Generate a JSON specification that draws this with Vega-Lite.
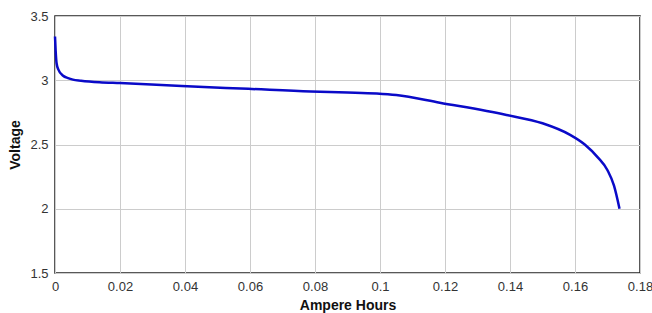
{
  "$schema": "https://vega.github.io/schema/vega-lite/v6.json",
  "width": 585,
  "height": 257,
  "autosize": {"type": "none"},
  "padding": {"left": 55, "top": 16, "right": 12, "bottom": 40},
  "background": "white",
  "config": {
    "font": "Liberation Sans",
    "view": {"stroke": "#222222", "strokeWidth": 1.5},
    "axis": {
      "gridColor": "#cccccc",
      "gridWidth": 1,
      "domain": false,
      "ticks": false,
      "labelFont": "Liberation Sans",
      "labelFontSize": 13,
      "labelColor": "#333333",
      "titleFont": "Liberation Sans",
      "titleFontSize": 14,
      "titleFontWeight": "bold",
      "titleColor": "#111111"
    }
  },
  "data": {
    "values": [
      {"ah": 0.0, "v": 3.34},
      {"ah": 0.0002, "v": 3.23},
      {"ah": 0.0005, "v": 3.13},
      {"ah": 0.001, "v": 3.085},
      {"ah": 0.0025, "v": 3.035},
      {"ah": 0.004, "v": 3.017},
      {"ah": 0.0055, "v": 3.005},
      {"ah": 0.008, "v": 2.997},
      {"ah": 0.0137, "v": 2.985},
      {"ah": 0.02, "v": 2.978},
      {"ah": 0.039, "v": 2.955},
      {"ah": 0.0595, "v": 2.933},
      {"ah": 0.0787, "v": 2.912},
      {"ah": 0.09, "v": 2.905},
      {"ah": 0.099, "v": 2.897},
      {"ah": 0.105, "v": 2.885},
      {"ah": 0.1184, "v": 2.825},
      {"ah": 0.1389, "v": 2.73},
      {"ah": 0.15, "v": 2.665},
      {"ah": 0.1585, "v": 2.575},
      {"ah": 0.163, "v": 2.5},
      {"ah": 0.167, "v": 2.4},
      {"ah": 0.17, "v": 2.3},
      {"ah": 0.172, "v": 2.18},
      {"ah": 0.1737, "v": 2.0}
    ]
  },
  "mark": {"type": "line", "color": "#0a0ac8", "strokeWidth": 2.5, "interpolate": "monotone"},
  "encoding": {
    "x": {
      "field": "ah",
      "type": "quantitative",
      "title": "Ampere Hours",
      "scale": {"domain": [0, 0.18], "nice": false, "zero": false},
      "axis": {"values": [0, 0.02, 0.04, 0.06, 0.08, 0.1, 0.12, 0.14, 0.16, 0.18], "format": "~f", "labelPadding": 7, "titlePadding": 5, "labelFlush": false, "labelOverlap": false}
    },
    "y": {
      "field": "v",
      "type": "quantitative",
      "title": "Voltage",
      "scale": {"domain": [1.5, 3.5], "nice": false, "zero": false},
      "axis": {"values": [1.5, 2, 2.5, 3, 3.5], "format": "~f", "labelPadding": 7, "titlePadding": 7}
    }
  }
}
